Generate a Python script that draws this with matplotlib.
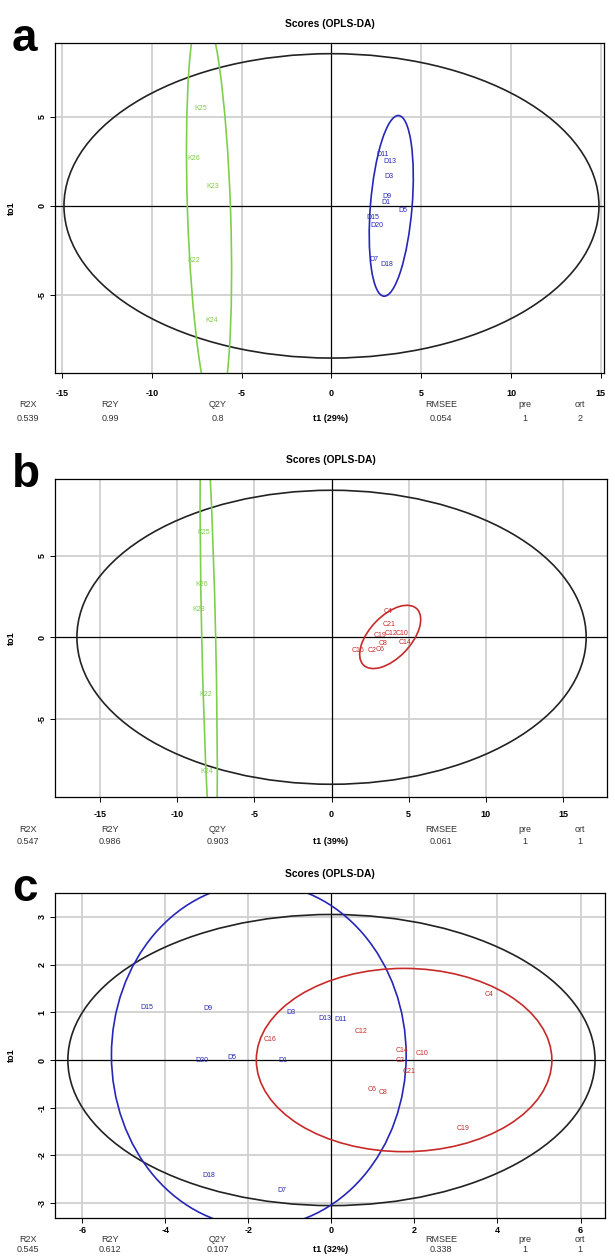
import matplotlib
matplotlib.use("Agg")
import matplotlib.pyplot as plt
from matplotlib.patches import Ellipse

plt.rcParams['font.family'] = ['Liberation Sans', 'DejaVu Sans']

W, H = 615, 1259
GREEN = "#7fcf4c"
BLUE = "#2626b8"
RED = "#c82a2a"
GRID = "#d0d0d0"

# ---- panel a : K vs D ----
a_k_labels = ["K25", "K26", "K23", "K22", "K24"]
a_k_t1 = [-7.28, -7.65, -6.63, -7.65, -6.66]
a_k_to1 = [5.49, 2.66, 1.07, -3.05, -6.42]
a_d_labels = ["D11", "D13", "D3", "D9", "D1", "D5", "D15", "D20", "D7", "D18"]
a_d_t1 = [2.87, 3.24, 3.20, 3.07, 3.02, 3.98, 2.31, 2.53, 2.35, 3.11]
a_d_to1 = [2.87, 2.49, 1.67, 0.51, 0.19, -0.28, -0.66, -1.08, -3.03, -3.28]
# ellipses: centre x, centre y, width, height, angle
a_ell_all = (0, 0, 29.8, 17.1, 0)
a_ell_k = (-6.82, -0.3, 2.4, 22.8, 1.9)
a_ell_d = (3.33, 0.0, 10.18, 2.32, 85.35)
a_stats = ["0.539", "0.99", "0.8", "0.054", "1", "2"]
a_xlabel = "t1 (29%)"

# ---- panel b : K vs C ----
b_k_labels = ["K25", "K26", "K23", "K22", "K24"]
b_k_t1 = [-8.26, -8.43, -8.60, -8.17, -8.10]
b_k_to1 = [6.41, 3.20, 1.67, -3.49, -8.19]
b_c_labels = ["C4", "C21", "C19", "C12", "C10", "C8", "C14", "C16", "C2", "C6"]
b_c_t1 = [3.68, 3.73, 3.15, 3.88, 4.56, 3.36, 4.76, 1.74, 2.64, 3.14]
b_c_to1 = [1.57, 0.81, 0.08, 0.20, 0.24, -0.41, -0.33, -0.84, -0.78, -0.74]
b_ell_all = (0, 0, 33.0, 18.0, 0)
b_ell_k = (-7.96, 0.0, 0.9, 28.2, 1.33)
b_ell_c = (3.8, 0.02, 4.88, 2.62, 43.9)
b_stats = ["0.547", "0.986", "0.903", "0.061", "1", "1"]
b_xlabel = "t1 (39%)"

# ---- panel c : D vs C ----
c_d_labels = ["D15", "D9", "D3", "D13", "D11", "D20", "D5", "D1", "D18", "D7"]
c_d_t1 = [-4.46, -2.98, -0.97, -0.17, 0.23, -3.12, -2.41, -1.16, -2.95, -1.19]
c_d_to1 = [1.10, 1.08, 0.99, 0.87, 0.84, -0.02, 0.06, -0.01, -2.41, -2.74]
c_c_labels = ["C4", "C12", "C16", "C14", "C10", "C2", "C21", "C6", "C8", "C19"]
c_c_t1 = [3.80, 0.71, -1.47, 1.71, 2.19, 1.65, 1.88, 0.98, 1.24, 3.17]
c_c_to1 = [1.38, 0.60, 0.42, 0.21, 0.13, 0.00, -0.25, -0.62, -0.68, -1.43]
c_ell_all = (0, 0, 12.7, 6.1, 0)
c_ell_d = (-1.75, 0.1, 7.1, 7.2, 0)
c_ell_c = (1.75, 0.0, 7.12, 3.84, 0)
c_stats = ["0.545", "0.612", "0.107", "0.338", "1", "1"]
c_xlabel = "t1 (32%)"

stat_names = ["R2X", "R2Y", "Q2Y", "RMSEE", "pre", "ort"]
stat_x = [28, 110, 218, 441, 525, 580]

fig = plt.figure(figsize=(W / 100, H / 100), dpi=100)


def fx(x):
    return x / W


def fy(y):
    return 1 - y / H


def panel(box, xlim, ylim, xticks, yticks, ells, groups, letter, xlabel,
          stats, rows, xpad):
    left, top, right, bottom = box
    ax = fig.add_axes([fx(left), fy(bottom), (right - left) / W, (bottom - top) / H])
    ax.set_xlim(xlim)
    ax.set_ylim(ylim)
    for t in xticks:
        if t != 0:
            ax.axvline(t, color=GRID, lw=1.3, zorder=0)
    for t in yticks:
        if t != 0:
            ax.axhline(t, color=GRID, lw=1.3, zorder=0)
    ax.axvline(0, color="black", lw=0.9, zorder=1)
    ax.axhline(0, color="black", lw=0.9, zorder=1)
    for (cx, cy, w, h, ang), col in ells:
        ax.add_patch(Ellipse((cx, cy), w, h, angle=ang, fill=False,
                             ec=col, lw=1.2, zorder=2))
    for labels, xs, ys, col in groups:
        for lab, x, y in zip(labels, xs, ys):
            ax.text(x, y, lab, color=col, fontsize=5, ha="center",
                    va="center", zorder=3)
    ax.set_xticks(xticks)
    ax.set_xticklabels([str(t) for t in xticks], fontweight="bold", fontsize=6.5)
    ax.set_yticks(yticks)
    ax.set_yticklabels([str(t) for t in yticks], fontweight="bold", fontsize=6.5,
                       rotation=90, va="center")
    ax.tick_params(axis="x", length=3.6, width=0.7, pad=xpad)
    ax.tick_params(axis="y", length=3.6, width=0.7, pad=2.5)
    for s in ax.spines.values():
        s.set_linewidth(0.9)

    cx_px = (left + right) / 2
    fig.text(fx(cx_px), fy(top - 19), "Scores (OPLS-DA)", fontsize=7.4,
             fontweight="bold", ha="center", va="center")
    fig.text(fx(12), fy(top + 8), letter, fontsize=33, fontweight="bold",
             ha="left", va="baseline")
    fig.text(fx(11), fy((top + bottom) / 2), "to1", fontsize=6.5,
             fontweight="bold", rotation=90, ha="center", va="center")
    hy, vy = rows
    for name, val, x in zip(stat_names, stats, stat_x):
        fig.text(fx(x), fy(hy), name, fontsize=6.5, color="#333333",
                 ha="center", va="center")
        fig.text(fx(x), fy(vy), val, fontsize=6.5, color="#333333",
                 ha="center", va="center")
    fig.text(fx(331), fy(vy), xlabel, fontsize=6.5, fontweight="bold",
             ha="center", va="center")
    return ax


panel((55, 43, 604, 373), (-15.4, 15.18), (-9.39, 9.15),
      [-15, -10, -5, 0, 5, 10, 15], [-5, 0, 5],
      [(a_ell_all, "#222222"), (a_ell_k, GREEN), (a_ell_d, BLUE)],
      [(a_k_labels, a_k_t1, a_k_to1, GREEN), (a_d_labels, a_d_t1, a_d_to1, BLUE)],
      "a", a_xlabel, a_stats, (405, 418), 8)

panel((55, 479, 607, 797), (-17.92, 17.85), (-9.78, 9.69),
      [-15, -10, -5, 0, 5, 10, 15], [-5, 0, 5],
      [(b_ell_all, "#222222"), (b_ell_k, GREEN), (b_ell_c, RED)],
      [(b_k_labels, b_k_t1, b_k_to1, GREEN), (b_c_labels, b_c_t1, b_c_to1, RED)],
      "b", b_xlabel, b_stats, (829, 841), 6)

panel((55, 893, 605, 1218), (-6.66, 6.59), (-3.31, 3.5),
      [-6, -4, -2, 0, 2, 4, 6], [-3, -2, -1, 0, 1, 2, 3],
      [(c_ell_all, "#222222"), (c_ell_d, BLUE), (c_ell_c, RED)],
      [(c_d_labels, c_d_t1, c_d_to1, BLUE), (c_c_labels, c_c_t1, c_c_to1, RED)],
      "c", c_xlabel, c_stats, (1239, 1249), 2)

fig.savefig("out.png", dpi=100, facecolor="white")
